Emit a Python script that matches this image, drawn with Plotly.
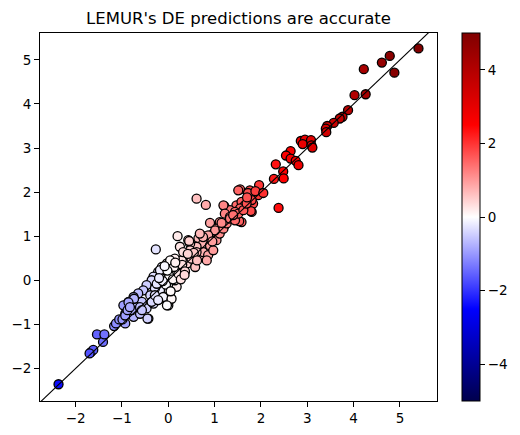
import plotly.graph_objects as go

TITLE = "LEMUR's DE predictions are accurate"

# true DE (x) vs predicted DE (y); colour = x
x_vals = [
    5.40, 4.78, 4.61, 4.22, 4.88, 4.02, 4.26, 3.88, 3.76, 3.70, 3.57, 3.43, 3.40, 3.41,
    2.86, 2.95, 3.08, 2.90, 3.09, 3.11, 2.64, 2.54, 2.64, 2.75, 2.81, 2.32, 2.48, 2.28,
    2.49, 2.38, 1.96, 1.76, 1.94, 1.83, 1.69, 1.62, 1.80, 1.58, 1.55, 1.72,
    0.61, 0.81, 1.21, 1.51, 0.90, 1.63, 1.47, 1.33, 1.80, 1.58, 1.65, 1.78, 1.55, 1.44,
    1.19, 1.22, 1.33, 1.53, 1.11, 1.22, 1.04, 1.11, 0.97, 0.90, 0.83, 0.72, 0.65, 0.75,
    0.61, 0.47, 0.43, 0.20, 0.25, 0.45,
    -0.03, -0.14, -0.22, -0.32, -0.36, -0.47, -0.54, -0.65, -0.75, -0.86, -0.97, -0.93,
    -0.93, -0.75, -0.61, -0.43, -0.47, -0.32, -0.18, 0.00, 0.00, 0.04, -0.07, 0.07, 0.18,
    0.14, 0.00, -0.11, -0.03, 0.07, 0.18, 0.25, 0.32, 0.40, 0.29, 0.14, 0.04, 0.50, 0.58,
    0.68, 0.75, 0.61, 0.47, 0.32, 0.86, 0.83, 0.90, 1.04, 1.11, 1.01, 1.19, 1.26, 1.33,
    1.44, 1.51, 1.62, 1.69, 0.86, 0.75, 0.68, 0.97, -0.18, -0.29, -0.25, -0.18, -0.07,
    -0.18, 0.11, -0.39, -0.36, -0.57, -0.68, -0.79, -0.29, -0.11, 0.07,
    0.02, -0.05, 0.10, 0.22, -0.12, 0.30, 0.36, -0.20, 0.55, 0.12, -0.02, 0.27,
    0.05, -0.08, 0.15, 0.35, 0.42, 0.62, 0.95, 1.15, 1.40, 1.70, 1.88, 2.05,
    -2.37, -1.67, -1.62, -1.70, -1.54, -1.41, -1.38, -1.17, -1.13, -1.06, -0.99, -0.93,
    -0.88, -0.74, -0.86, -0.83, -0.61, -0.57, -0.45, -0.22, -0.03, -0.27,
]
y_vals = [
    5.26, 5.09, 4.94, 4.79, 4.71, 4.20, 4.22, 3.86, 3.71, 3.67, 3.57, 3.50, 3.44, 3.36,
    3.16, 3.19, 3.18, 3.09, 3.06, 3.01, 2.93, 2.83, 2.76, 2.71, 2.61, 2.63, 2.47, 2.30,
    2.31, 1.64, 2.16, 2.04, 1.93, 1.74, 1.82, 1.66, 1.55, 1.32, 2.06, 1.98,
    1.85, 1.71, 1.68, 2.04, 1.30, 1.78, 1.70, 1.59, 1.82, 1.78, 1.70, 1.57, 1.63, 1.55,
    1.70, 1.51, 1.44, 1.34, 1.32, 1.25, 1.17, 1.10, 1.06, 0.98, 0.91, 1.02, 0.95, 0.83,
    0.76, 0.83, 0.91, 1.00, 0.76, 0.89,
    0.38, 0.30, 0.19, 0.08, 0.00, -0.11, -0.23, -0.30, -0.38, -0.49, -0.57, -0.76,
    -0.98, -0.83, -0.76, -0.87, -0.64, -0.53, -0.42, -0.57, -0.38, -0.27, -0.19, -0.11, -0.15,
    0.00, 0.04, -0.04, 0.15, 0.23, 0.27, 0.11, 0.23, 0.38, 0.45, 0.49, 0.45, 0.49, 0.30,
    0.53, 0.64, 0.64, 0.68, 0.64, 0.57, 0.45, 0.79, 0.91, 1.06, 1.13, 1.17, 1.29, 1.40,
    1.36, 1.51, 1.59, 1.74, 1.02, 0.98, 1.06, 0.68, -0.23, -0.19, -0.08, 0.08, 0.23,
    0.23, 0.11, -0.34, -0.49, -0.49, -0.61, -0.68, -0.34, -0.38, -0.42,
    0.10, -0.10, 0.02, 0.15, -0.02, 0.35, 0.20, 0.05, 0.62, 0.30, 0.22, 0.02,
    -0.25, 0.32, 0.40, 0.12, 0.60, 0.45, 0.88, 1.30, 1.48, 1.88, 2.02, 1.98,
    -2.36, -1.63, -1.58, -1.66, -1.23, -1.40, -1.23, -1.04, -0.98, -0.89, -0.89, -0.80,
    -0.68, -0.42, -0.50, -0.61, -0.61, -0.68, -0.87, -0.45, -0.57, 0.70,
]

X_RANGE = [-2.77, 5.80]
Y_RANGE = [-2.74, 5.61]
C_RANGE = [-5, 5]
CBAR_TICKS = [-4, -2, 0, 2, 4]
X_TICKS = [-2, -1, 0, 1, 2, 3, 4, 5]
Y_TICKS = [-2, -1, 0, 1, 2, 3, 4, 5]

seismic = [
    [0.0, "rgb(0,0,77)"],
    [0.25, "rgb(0,0,255)"],
    [0.5, "rgb(255,255,255)"],
    [0.75, "rgb(255,0,0)"],
    [1.0, "rgb(128,0,0)"],
]

font = dict(family="DejaVu Sans", size=13.5, color="black")

fig = go.Figure()
fig.add_trace(go.Scatter(
    x=x_vals, y=y_vals, mode="markers",
    marker=dict(
        size=9, color=x_vals, colorscale=seismic, cmin=C_RANGE[0], cmax=C_RANGE[1],
        line=dict(color="black", width=1.3),
        colorbar=dict(
            thickness=18, len=1.0, lenmode="fraction", x=1.063, xanchor="left",
            y=0.5, yanchor="middle", xpad=0, ypad=0,
            outlinecolor="black", outlinewidth=1,
            tickvals=CBAR_TICKS, ticks="outside", ticklen=5, tickwidth=1,
            tickcolor="black", tickfont=font,
        ),
    ),
    showlegend=False, hoverinfo="skip",
))
diag = [min(X_RANGE[0], Y_RANGE[0]), max(X_RANGE[1], Y_RANGE[1])]
fig.add_trace(go.Scatter(
    x=diag, y=diag, mode="lines", line=dict(color="black", width=1.1),
    showlegend=False, hoverinfo="skip",
))

axis_common = dict(
    showgrid=False, zeroline=False, showline=True, linecolor="black", linewidth=1,
    mirror=True, ticks="outside", ticklen=5, tickwidth=1, tickcolor="black",
    tickfont=font,
)
fig.update_xaxes(range=X_RANGE, tickvals=X_TICKS, **axis_common)
fig.update_yaxes(range=Y_RANGE, tickvals=Y_TICKS, **axis_common)

fig.update_layout(
    width=520, height=435,
    margin=dict(l=40, r=83, t=33, b=34, autoexpand=False),
    paper_bgcolor="white", plot_bgcolor="white",
    font=font,
    title=dict(text=TITLE, x=0.5, xref="paper", xanchor="center",
               y=1 - 18 / 435, yref="container", yanchor="middle",
               font=dict(family="DejaVu Sans", size=16.5, color="black")),
)

fig.write_html("out.html")
